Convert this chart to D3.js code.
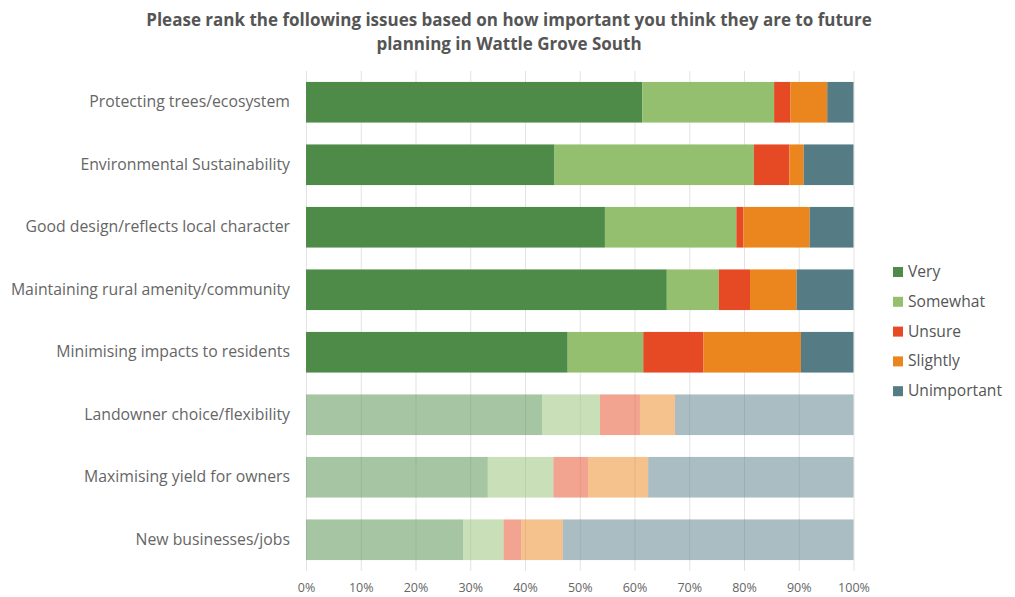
<!DOCTYPE html>
<html>
<head>
<meta charset="utf-8">
<script src="https://cdn.jsdelivr.net/npm/d3@7"></script>
<style>
  html, body { margin: 0; padding: 0; background: #fff; }
  svg { display: block; font-family: "Open Sans", sans-serif; }
</style>
</head>
<body>
<svg id="chart" width="1015" height="597"></svg>
<script>
const categories = [
  "Protecting trees/ecosystem",
  "Environmental Sustainability",
  "Good design/reflects local character",
  "Maintaining rural amenity/community",
  "Minimising impacts to residents",
  "Landowner choice/flexibility",
  "Maximising yield for owners",
  "New businesses/jobs"
];
const seriesNames = ["Very", "Somewhat", "Unsure", "Slightly", "Unimportant"];
const very        = [61.4, 45.4, 54.6, 65.9, 47.8, 43.1, 33.2, 28.7];
const somewhat    = [24.1, 36.4, 24.0,  9.5, 13.8, 10.6, 12.0,  7.4];
const unsure      = [ 3.0,  6.5,  1.3,  5.7, 11.0,  7.3,  6.3,  3.2];
const slightly    = [ 6.7,  2.6, 12.1,  8.5, 17.8,  6.4, 11.0,  7.6];
const unimportant = [ 4.8,  9.1,  8.0, 10.4,  9.6, 32.6, 37.5, 53.1];
const faded       = [false, false, false, false, false, true, true, true];
const tickValues  = [0, 10, 20, 30, 40, 50, 60, 70, 80, 90, 100];
const colors = ["#4e8b48", "#93bf6f", "#e54a24", "#eb851e", "#557b85"];
const titleLines = [
  "Please rank the following issues based on how important you think they are to future",
  "planning in Wattle Grove South"
];

const seriesValues = [very, somewhat, unsure, slightly, unimportant];
const data = categories.map((c, i) => {
  const row = { category: c, faded: faded[i] };
  seriesNames.forEach((s, j) => row[s] = seriesValues[j][i]);
  return row;
});

const svg = d3.select("#chart");
const x = d3.scaleLinear().domain([0, 100]).range([306, 853.5]);
const y = d3.scaleBand().domain(categories).range([71, 571]).paddingInner(0.35).paddingOuter(0.175);
const color = d3.scaleOrdinal().domain(seriesNames).range(colors);

// gridlines + bottom axis
const xAxis = d3.axisBottom(x).tickValues(tickValues).tickFormat(d => d + "%").tickSize(-500).tickPadding(12);
const gx = svg.append("g").attr("transform", "translate(0,571)").call(xAxis);
gx.select(".domain").remove();
gx.selectAll(".tick line").attr("stroke", "#e3e3e3").attr("stroke-width", 1);
gx.selectAll(".tick text").attr("fill", "#666").attr("font-size", 12.5).attr("font-family", "Open Sans, sans-serif");

// stacked bars
const stack = d3.stack().keys(seriesNames);
const stacked = stack(data);
svg.append("g").selectAll("g").data(stacked).join("g")
  .attr("fill", d => color(d.key))
  .selectAll("rect").data(d => d).join("rect")
  .attr("x", d => x(d[0]))
  .attr("width", d => x(d[1]) - x(d[0]))
  .attr("y", d => y(d.data.category))
  .attr("height", y.bandwidth())
  .attr("fill-opacity", d => d.data.faded ? 0.5 : 1);

// category labels
const yAxis = d3.axisLeft(y).tickSize(0).tickPadding(16);
const gy = svg.append("g").attr("transform", "translate(306,0)").call(yAxis);
gy.select(".domain").remove();
gy.selectAll(".tick text").attr("fill", "#666").attr("font-size", 15.8).attr("font-family", "Open Sans, sans-serif");

// title
svg.append("g").selectAll("text").data(titleLines).join("text")
  .attr("x", 509).attr("y", (d, i) => 26 + i * 24)
  .attr("text-anchor", "middle")
  .attr("font-size", 17).attr("font-weight", "bold")
  .attr("fill", "#555")
  .text(d => d);

// legend
const legend = svg.append("g").attr("transform", "translate(893,266)");
const li = legend.selectAll("g").data(seriesNames).join("g")
  .attr("transform", (d, i) => `translate(0,${i * 29.8})`);
li.append("rect").attr("width", 10).attr("height", 10).attr("y", 1).attr("fill", d => color(d));
li.append("text").attr("x", 15).attr("y", 11).attr("font-size", 15.6).attr("fill", "#555").text(d => d);
</script>
</body>
</html>
